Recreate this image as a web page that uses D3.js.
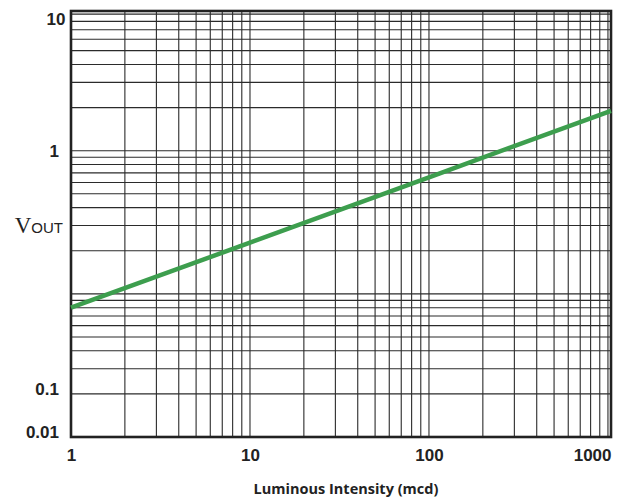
<!DOCTYPE html>
<html>
<head>
<meta charset="utf-8">
<script src="https://cdn.jsdelivr.net/npm/d3@7"></script>
<style>
  body { margin: 0; background: #fff; }
  svg { display: block; }
</style>
</head>
<body>
<div id="wrapper"></div>
<script>
// luminous intensity (mcd) and output voltage
const intensity = [1, 10, 100, 1040];
const vout = [0.08, 0.228, 0.652, 1.9];

const xTickValues = [1, 10, 100, 1000];
const xTickLabels = ["1", "10", "100", "1000"];
// the original prints its y labels off their gridlines; these are the values where they sit
const yTickValues = [8.32, 1, 0.0216, 0.0108];
const yTickLabels = ["10", "1", "0.1", "0.01"];

const dimension = {
    width: 617,
    height: 499,
    margin: { top: 11, right: 6, bottom: 62, left: 71 }
};
dimension.boundedWidth = dimension.width - dimension.margin.left - dimension.margin.right;
dimension.boundedHeight = dimension.height - dimension.margin.top - dimension.margin.bottom;

const svg = d3.select("#wrapper")
    .append("svg")
    .attr("width", dimension.width)
    .attr("height", dimension.height);

const bounds = svg.append("g")
    .attr("transform", `translate(${dimension.margin.left},${dimension.margin.top})`);

const x = d3.scaleLog()
    .domain([1, 1040])
    .range([0, dimension.boundedWidth]);

const y = d3.scaleLog()
    .domain([0.01, 9.46])
    .range([dimension.boundedHeight, 0]);

// grid
bounds.append("g")
    .attr("class", "grid")
    .selectAll("line.v")
    .data(x.ticks())
    .enter()
    .append("line")
    .attr("x1", d => x(d))
    .attr("x2", d => x(d))
    .attr("y1", 0)
    .attr("y2", dimension.boundedHeight)
    .attr("stroke", "#2b2b2b")
    .attr("stroke-width", 1.1);

bounds.append("g")
    .attr("class", "grid")
    .selectAll("line.h")
    .data(y.ticks())
    .enter()
    .append("line")
    .attr("x1", 0)
    .attr("x2", dimension.boundedWidth)
    .attr("y1", d => y(d))
    .attr("y2", d => y(d))
    .attr("stroke", "#2b2b2b")
    .attr("stroke-width", 1.1);

// frame
bounds.append("rect")
    .attr("x", 0)
    .attr("y", 0)
    .attr("width", dimension.boundedWidth)
    .attr("height", dimension.boundedHeight)
    .attr("fill", "none")
    .attr("stroke", "#222")
    .attr("stroke-width", 2.6);

// curve
const line = d3.line()
    .x((d, i) => x(intensity[i]))
    .y(d => y(d));

bounds.append("path")
    .datum(vout)
    .attr("d", line)
    .attr("fill", "none")
    .attr("stroke", "#3d9e4e")
    .attr("stroke-width", 4.5);

// axes (labels only)
const xAxis = d3.axisBottom(x)
    .tickValues(xTickValues)
    .tickFormat((d, i) => xTickLabels[i])
    .tickSize(0)
    .tickPadding(12);

const xAxisG = bounds.append("g")
    .attr("transform", `translate(0,${dimension.boundedHeight})`)
    .call(xAxis);
xAxisG.select(".domain").remove();
xAxisG.selectAll("text")
    .style("font-family", "'Liberation Sans', Arial, sans-serif")
    .style("font-weight", "bold")
    .style("font-size", "17px")
    .attr("fill", "#222");
// the last label is pulled in to end at the frame
xAxisG.selectAll(".tick").filter((d, i) => i === xTickValues.length - 1)
    .select("text")
    .attr("text-anchor", "end")
    .attr("x", dimension.boundedWidth - x(1000));

const yAxis = d3.axisLeft(y)
    .tickValues(yTickValues)
    .tickFormat((d, i) => yTickLabels[i])
    .tickSize(0)
    .tickPadding(12);

const yAxisG = bounds.append("g").call(yAxis);
yAxisG.select(".domain").remove();
yAxisG.selectAll("text")
    .style("font-family", "'Liberation Sans', Arial, sans-serif")
    .style("font-weight", "bold")
    .style("font-size", "17px")
    .attr("fill", "#222");
// top label sits a little closer to the frame
yAxisG.selectAll(".tick").filter((d, i) => i === 0)
    .select("text")
    .attr("x", -5.5);

// axis titles
svg.append("text")
    .attr("x", 346)
    .attr("y", 494)
    .attr("text-anchor", "middle")
    .style("font-family", "'Open Sans', sans-serif")
    .style("font-weight", "bold")
    .style("font-size", "14.5px")
    .attr("fill", "#222")
    .text("Luminous Intensity (mcd)");

const yTitle = svg.append("text")
    .attr("x", 63)
    .attr("y", 233)
    .attr("text-anchor", "end")
    .attr("fill", "#222");
yTitle.append("tspan")
    .style("font-family", "'Liberation Serif', 'Times New Roman', serif")
    .style("font-size", "23px")
    .text("V");
yTitle.append("tspan")
    .style("font-family", "'Liberation Sans', Arial, sans-serif")
    .style("font-size", "15px")
    .text("OUT");
</script>
</body>
</html>
